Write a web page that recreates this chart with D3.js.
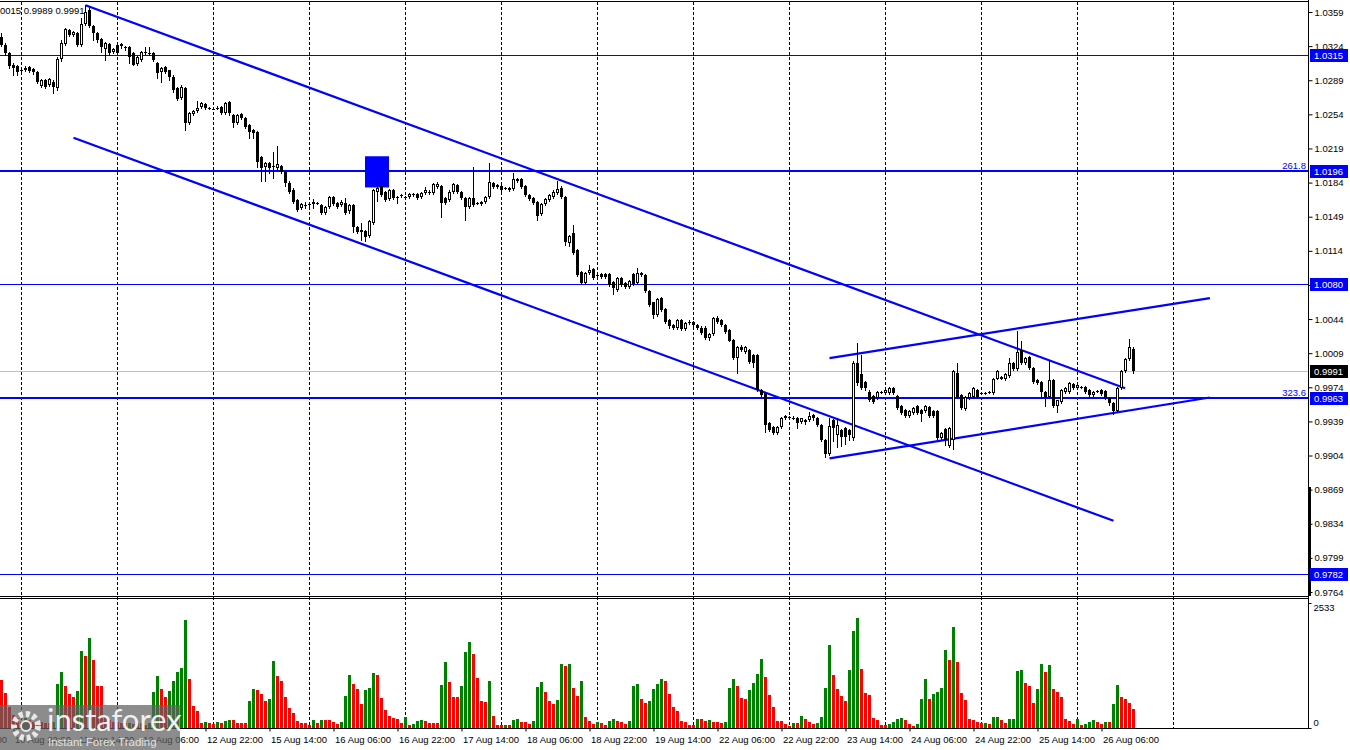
<!DOCTYPE html>
<html><head><meta charset="utf-8">
<script src="https://cdn.jsdelivr.net/npm/d3@7"></script>
<style>body{margin:0;background:#fff}svg{display:block;font-family:"Liberation Sans",Arial,sans-serif}</style>
</head><body>
<script>
// ---- DATA (EURUSD H1) ----
const open=[1.0333,1.0325,1.0317,1.0305,1.0304,1.0299,1.0299,1.0303,1.0301,1.0297,
1.0283,1.0289,1.0284,1.0287,1.0281,1.0311,1.0326,1.0341,1.0335,1.0337,
1.0325,1.0347,1.0361,1.0345,1.0337,1.0331,1.0321,1.0326,1.0318,1.0325,
1.0326,1.0323,1.0323,1.0317,1.0306,1.0310,1.0318,1.0317,1.0317,1.0307,
1.0297,1.0303,1.0299,1.0292,1.0281,1.0271,1.0281,1.0245,1.0254,1.0257,
1.0262,1.0265,1.0261,1.0260,1.0261,1.0262,1.0255,1.0267,1.0253,1.0245,
1.0254,1.0250,1.0243,1.0238,1.0236,1.0210,1.0200,1.0204,1.0201,1.0199,
1.0201,1.0195,1.0184,1.0176,1.0166,1.0158,1.0161,1.0162,1.0162,1.0163,
1.0161,1.0153,1.0159,1.0169,1.0163,1.0161,1.0163,1.0155,1.0161,1.0138,
1.0135,1.0134,1.0129,1.0143,1.0174,1.0181,1.0174,1.0167,1.0176,1.0169,
1.0171,1.0169,1.0169,1.0172,1.0172,1.0169,1.0173,1.0174,1.0173,1.0179,
1.0181,1.0168,1.0166,1.0174,1.0182,1.0174,1.0168,1.0159,1.0168,1.0163,
1.0164,1.0164,1.0169,1.0184,1.0182,1.0181,1.0178,1.0178,1.0177,1.0188,
1.0188,1.0181,1.0171,1.0168,1.0164,1.0152,1.0162,1.0166,1.0169,1.0173,
1.0178,1.0169,1.0122,1.0132,1.0115,1.0092,1.0081,1.0091,1.0095,1.0089,
1.0090,1.0090,1.0090,1.0082,1.0074,1.0086,1.0081,1.0077,1.0090,1.0081,
1.0089,1.0089,1.0073,1.0061,1.0048,1.0066,1.0054,1.0043,1.0038,1.0035,
1.0043,1.0034,1.0041,1.0041,1.0038,1.0035,1.0035,1.0025,1.0029,1.0045,
1.0043,1.0038,1.0033,1.0023,1.0004,1.0015,1.0010,1.0012,1.0007,1.0007,
0.9971,0.9968,0.9937,0.9933,0.9927,0.9933,0.9945,0.9944,0.9943,0.9943,
0.9938,0.9940,0.9940,0.9946,0.9943,0.9935,0.9920,0.9906,0.9940,0.9925,
0.9930,0.9932,0.9930,0.9922,0.9999,0.9988,0.9979,0.9969,0.9965,0.9963,
0.9969,0.9968,0.9968,0.9973,0.9965,0.9955,0.9951,0.9945,0.9948,0.9955,
0.9951,0.9950,0.9954,0.9950,0.9950,0.9922,0.9931,0.9914,0.9920,0.9989,
0.9966,0.9952,0.9963,0.9964,0.9971,0.9968,0.9968,0.9969,0.9968,0.9983,
0.9983,0.9982,0.9986,0.9999,0.9993,1.0012,0.9999,1.0005,0.9994,0.9981,
0.9979,0.9969,0.9964,0.9981,0.9955,0.9959,0.9969,0.9969,0.9977,0.9973,
0.9974,0.9974,0.9971,0.9966,0.9970,0.9971,0.9970,0.9963,0.9958,0.9950,
0.9973,0.9991,1.0003,1.0013];
const high=[1.0337,1.0327,1.0318,1.0307,1.0305,1.0301,1.0304,1.0304,1.0302,1.0298,
1.0290,1.0290,1.0291,1.0289,1.0313,1.0330,1.0343,1.0342,1.0340,1.0338,
1.0353,1.0366,1.0365,1.0346,1.0338,1.0332,1.0328,1.0327,1.0322,1.0327,
1.0327,1.0324,1.0324,1.0318,1.0314,1.0319,1.0323,1.0323,1.0318,1.0308,
1.0303,1.0304,1.0300,1.0294,1.0282,1.0284,1.0282,1.0256,1.0258,1.0268,
1.0267,1.0266,1.0262,1.0262,1.0263,1.0263,1.0267,1.0268,1.0254,1.0254,
1.0255,1.0251,1.0244,1.0239,1.0237,1.0211,1.0205,1.0205,1.0215,1.0222,
1.0202,1.0196,1.0186,1.0178,1.0167,1.0163,1.0164,1.0163,1.0167,1.0164,
1.0162,1.0160,1.0170,1.0170,1.0164,1.0166,1.0168,1.0162,1.0162,1.0139,
1.0143,1.0135,1.0146,1.0177,1.0194,1.0182,1.0175,1.0177,1.0177,1.0170,
1.0172,1.0170,1.0173,1.0173,1.0173,1.0174,1.0179,1.0176,1.0184,1.0185,
1.0182,1.0169,1.0176,1.0184,1.0183,1.0175,1.0169,1.0169,1.0200,1.0164,
1.0165,1.0170,1.0204,1.0185,1.0183,1.0182,1.0179,1.0179,1.0194,1.0189,
1.0189,1.0182,1.0172,1.0169,1.0165,1.0163,1.0168,1.0172,1.0176,1.0186,
1.0180,1.0170,1.0130,1.0140,1.0116,1.0093,1.0092,1.0099,1.0096,1.0091,
1.0091,1.0091,1.0091,1.0083,1.0087,1.0087,1.0082,1.0084,1.0091,1.0096,
1.0092,1.0090,1.0074,1.0062,1.0066,1.0067,1.0055,1.0044,1.0039,1.0044,
1.0044,1.0041,1.0043,1.0042,1.0039,1.0037,1.0037,1.0030,1.0046,1.0047,
1.0044,1.0039,1.0034,1.0024,1.0016,1.0017,1.0016,1.0013,1.0008,1.0008,
0.9972,0.9969,0.9938,0.9934,0.9934,0.9944,0.9946,0.9945,0.9945,0.9944,
0.9943,0.9941,0.9949,0.9947,0.9944,0.9936,0.9921,0.9943,0.9941,0.9942,
0.9931,0.9933,0.9931,1.0001,1.0019,1.0007,0.9980,0.9971,0.9966,0.9970,
0.9970,0.9972,0.9974,0.9974,0.9966,0.9956,0.9952,0.9951,0.9954,0.9956,
0.9952,0.9956,0.9955,0.9951,0.9951,0.9928,0.9932,0.9933,0.9992,0.9999,
0.9967,0.9965,0.9969,0.9974,0.9972,0.9969,0.9969,0.9970,0.9984,0.9992,
0.9986,0.9989,1.0004,1.0000,1.0032,1.0022,1.0005,1.0006,0.9995,0.9982,
0.9980,0.9970,1.0002,0.9982,0.9961,0.9972,0.9974,0.9979,0.9978,0.9977,
0.9975,0.9975,0.9972,0.9970,0.9971,0.9972,0.9971,0.9964,0.9959,0.9974,
0.9992,1.0004,1.0024,1.0015];
const low=[1.0324,1.0315,1.0302,1.0294,1.0294,1.0296,1.0298,1.0297,1.0295,1.0286,
1.0282,1.0281,1.0283,1.0276,1.0279,1.0309,1.0325,1.0334,1.0334,1.0324,
1.0324,1.0346,1.0344,1.0330,1.0328,1.0318,1.0310,1.0315,1.0317,1.0316,
1.0322,1.0320,1.0307,1.0305,1.0305,1.0309,1.0316,1.0315,1.0309,1.0291,
1.0287,1.0296,1.0289,1.0277,1.0269,1.0270,1.0238,1.0244,1.0253,1.0256,
1.0261,1.0260,1.0259,1.0259,1.0259,1.0254,1.0254,1.0253,1.0241,1.0244,
1.0249,1.0240,1.0230,1.0230,1.0200,1.0186,1.0186,1.0194,1.0189,1.0198,
1.0194,1.0181,1.0173,1.0163,1.0155,1.0157,1.0158,1.0160,1.0158,1.0162,
1.0152,1.0152,1.0158,1.0161,1.0158,1.0160,1.0152,1.0153,1.0133,1.0132,
1.0125,1.0124,1.0128,1.0142,1.0165,1.0170,1.0165,1.0166,1.0167,1.0163,
1.0169,1.0167,1.0168,1.0170,1.0167,1.0168,1.0172,1.0172,1.0172,1.0178,
1.0149,1.0162,1.0165,1.0173,1.0173,1.0167,1.0146,1.0158,1.0160,1.0162,
1.0161,1.0163,1.0168,1.0178,1.0178,1.0175,1.0177,1.0175,1.0176,1.0185,
1.0178,1.0170,1.0166,1.0162,1.0146,1.0151,1.0161,1.0165,1.0168,1.0172,
1.0168,1.0120,1.0119,1.0111,1.0088,1.0080,1.0080,1.0090,1.0085,1.0087,
1.0086,1.0086,1.0078,1.0070,1.0073,1.0078,1.0076,1.0076,1.0079,1.0080,
1.0088,1.0072,1.0057,1.0045,1.0047,1.0052,1.0040,1.0035,1.0034,1.0034,
1.0033,1.0033,1.0039,1.0037,1.0034,1.0029,1.0024,1.0023,1.0028,1.0040,
1.0037,1.0030,1.0021,1.0003,0.9989,1.0011,1.0009,0.9999,0.9995,0.9970,
0.9965,0.9928,0.9929,0.9926,0.9926,0.9932,0.9941,0.9942,0.9941,0.9932,
0.9937,0.9936,0.9939,0.9940,0.9934,0.9919,0.9903,0.9905,0.9919,0.9913,
0.9914,0.9916,0.9920,0.9920,0.9976,0.9972,0.9971,0.9960,0.9958,0.9962,
0.9968,0.9967,0.9967,0.9967,0.9952,0.9947,0.9944,0.9944,0.9947,0.9947,
0.9939,0.9949,0.9944,0.9944,0.9921,0.9921,0.9915,0.9913,0.9911,0.9963,
0.9952,0.9951,0.9962,0.9963,0.9963,0.9967,0.9967,0.9968,0.9967,0.9982,
0.9982,0.9981,0.9985,0.9992,0.9992,0.9998,0.9998,0.9993,0.9978,0.9977,
0.9963,0.9955,0.9963,0.9954,0.9949,0.9958,0.9968,0.9968,0.9972,0.9972,
0.9973,0.9968,0.9965,0.9965,0.9969,0.9966,0.9962,0.9956,0.9947,0.9949,
0.9972,0.9990,1.0002,0.9989];
const close=[1.0325,1.0317,1.0304,1.0302,1.0297,1.0298,1.0302,1.0298,1.0297,1.0287,
1.0289,1.0282,1.0290,1.0282,1.0311,1.0327,1.0342,1.0335,1.0338,1.0325,
1.0347,1.0359,1.0345,1.0337,1.0330,1.0323,1.0327,1.0317,1.0321,1.0317,
1.0324,1.0322,1.0313,1.0305,1.0313,1.0318,1.0317,1.0317,1.0310,1.0296,
1.0302,1.0297,1.0292,1.0279,1.0270,1.0282,1.0245,1.0255,1.0257,1.0261,
1.0266,1.0261,1.0261,1.0260,1.0261,1.0255,1.0266,1.0255,1.0245,1.0253,
1.0250,1.0241,1.0236,1.0235,1.0205,1.0199,1.0204,1.0199,1.0201,1.0203,
1.0195,1.0184,1.0174,1.0164,1.0156,1.0162,1.0161,1.0162,1.0164,1.0163,
1.0153,1.0159,1.0169,1.0162,1.0159,1.0164,1.0153,1.0161,1.0138,1.0133,
1.0133,1.0128,1.0145,1.0176,1.0178,1.0171,1.0166,1.0176,1.0168,1.0168,
1.0171,1.0168,1.0172,1.0172,1.0168,1.0173,1.0176,1.0174,1.0183,1.0183,
1.0163,1.0163,1.0174,1.0183,1.0174,1.0168,1.0159,1.0168,1.0161,1.0163,
1.0162,1.0169,1.0185,1.0179,1.0179,1.0176,1.0178,1.0176,1.0188,1.0186,
1.0179,1.0171,1.0167,1.0163,1.0150,1.0162,1.0167,1.0171,1.0174,1.0177,
1.0169,1.0123,1.0129,1.0112,1.0089,1.0081,1.0091,1.0094,1.0086,1.0089,
1.0087,1.0087,1.0079,1.0076,1.0086,1.0079,1.0077,1.0083,1.0080,1.0091,
1.0091,1.0073,1.0058,1.0048,1.0065,1.0053,1.0041,1.0037,1.0035,1.0043,
1.0034,1.0040,1.0041,1.0038,1.0035,1.0030,1.0025,1.0029,1.0045,1.0041,
1.0038,1.0031,1.0022,1.0004,1.0015,1.0012,1.0015,1.0000,0.9999,0.9971,
0.9966,0.9935,0.9930,0.9927,0.9933,0.9943,0.9942,0.9944,0.9943,0.9937,
0.9942,0.9938,0.9945,0.9943,0.9935,0.9920,0.9906,0.9934,0.9932,0.9935,
0.9923,0.9923,0.9925,0.9999,0.9978,0.9973,0.9973,0.9961,0.9959,0.9969,
0.9969,0.9971,0.9973,0.9968,0.9953,0.9948,0.9945,0.9950,0.9953,0.9948,
0.9947,0.9955,0.9945,0.9945,0.9922,0.9927,0.9920,0.9932,0.9991,0.9964,
0.9953,0.9964,0.9968,0.9973,0.9964,0.9968,0.9968,0.9969,0.9983,0.9991,
0.9985,0.9988,0.9999,0.9993,1.0010,0.9999,1.0004,0.9994,0.9979,0.9978,
0.9969,0.9964,0.9981,0.9955,0.9961,0.9971,0.9973,0.9978,0.9973,0.9976,
0.9974,0.9969,0.9966,0.9969,0.9970,0.9967,0.9963,0.9958,0.9950,0.9973,
0.9991,1.0003,1.0015,0.9991];
const volume=[974,704,420,264,197,128,197,162,128,124,
118,110,108,128,893,1143,853,690,635,757,
1563,1462,1821,1380,853,850,264,162,128,126,
95,95,108,81,95,94,61,95,737,1056,
792,635,757,960,1143,1224,2192,995,453,351,
108,122,95,81,122,108,136,168,162,108,
107,106,548,792,771,684,554,583,1360,1056,
960,635,400,298,142,108,107,61,162,95,
162,161,160,116,81,122,650,1076,893,786,
487,771,806,1123,1076,615,365,244,203,183,
95,229,61,81,142,162,142,108,107,106,
873,1346,940,623,622,853,1543,1746,1502,1009,
548,522,960,244,67,55,61,60,162,183,
122,121,81,142,838,934,737,548,487,568,
1299,1259,1300,812,650,954,223,142,81,122,
102,61,142,183,142,122,81,142,853,893,
589,508,548,792,893,995,954,690,426,345,
142,122,61,60,183,182,142,162,122,121,
102,122,812,995,853,609,589,771,914,1096,
1401,1035,670,426,142,141,81,41,102,101,
244,183,122,81,102,223,812,1685,1076,792,
650,548,1177,1969,2233,1198,711,670,203,162,
61,60,81,122,183,203,162,81,41,81,
589,995,589,690,731,812,1583,1380,2050,1340,
711,568,183,162,122,102,104,81,223,224,
162,102,183,184,1157,1177,914,853,508,792,
1299,1137,1279,792,731,629,183,142,81,183,
61,81,122,162,122,81,122,121,487,873,
629,589,508,386];
const timeLabels=["10 Aug 06:00","10 Aug 22:00","11 Aug 14:00","12 Aug 06:00","12 Aug 22:00","15 Aug 14:00","16 Aug 06:00","16 Aug 22:00","17 Aug 14:00","18 Aug 06:00","18 Aug 22:00","19 Aug 14:00","22 Aug 06:00","22 Aug 22:00","23 Aug 14:00","24 Aug 06:00","24 Aug 22:00","25 Aug 14:00","26 Aug 06:00"];
const timeLabelBar=[-13,3,19,35,51,67,83,99,115,131,147,163,179,195,211,227,243,259,275];
const dayStartBar=[5,29,53,77,101,125,149,173,197,221,245,269,293];
const priceTicks=[1.0359,1.0324,1.0289,1.0254,1.0219,1.0184,1.0149,1.0114,1.0079,1.0044,1.0009,0.9974,0.9939,0.9904,0.9869,0.9834,0.9799,0.9764];
const levelPrices=[1.0315,1.0196,1.0080,0.9963,0.9782];
const levelWidths=[1,2,1,2,1];
const fiboLabels=[{price:1.0196,text:"261.8"},{price:0.9963,text:"323.6"}];
const bidPrice=0.9991;
const trendLines=[[21,1.0366,280.9,0.9973],[18,1.0230,278,0.9837],[207,0.9901,302.1,0.99635],[207,1.0004,302.1,1.00655]];
const markRect=[90.875,1.0211,96.875,1.0179];
const volumeTicks=[2533,0];
const headerText="0015 0.9989 0.9991";

// ---- CHART ----
const W=1350,H=750, AX=1308;
const N=close.length;
const x=d3.scaleLinear().domain([0,N-1]).range([1.5,1.5+4*(N-1)]);
const y=d3.scaleLinear().domain([0.9764,1.0359]).range([592,12]);
const vy=d3.scaleLinear().domain([0,2533]).range([728,603]);
const BLUE="#0000ff";
const svg=d3.select("body").append("svg").attr("width",W).attr("height",H);
svg.append("rect").attr("width",W).attr("height",H).attr("fill","#fff");
const font="9.5px";

// frames
svg.append("line").attr("x1",0).attr("x2",AX).attr("y1",1.5).attr("y2",1.5).attr("stroke","#000");
svg.append("line").attr("x1",0).attr("x2",AX).attr("y1",596.5).attr("y2",596.5).attr("stroke","#000");
svg.append("line").attr("x1",0).attr("x2",AX).attr("y1",598.5).attr("y2",598.5).attr("stroke","#000");
svg.append("line").attr("x1",0).attr("x2",AX+1).attr("y1",728.5).attr("y2",728.5).attr("stroke","#000");
svg.append("line").attr("x1",AX+0.5).attr("x2",AX+0.5).attr("y1",0).attr("y2",729).attr("stroke","#000");
svg.append("rect").attr("x",AX).attr("y",487).attr("width",3).attr("height",109).attr("fill","#000");

// day grid
svg.append("g").selectAll("line").data(dayStartBar).join("line")
  .attr("x1",d=>x(d)).attr("x2",d=>x(d)).attr("y1",2).attr("y2",728)
  .attr("stroke","#000").attr("stroke-dasharray","3,2").attr("shape-rendering","crispEdges");

const clipId="mainclip";
svg.append("clipPath").attr("id",clipId).append("rect").attr("x",0).attr("y",2).attr("width",AX).attr("height",594);
const main=svg.append("g").attr("clip-path",`url(#${clipId})`);

// bid line
main.append("line").attr("x1",0).attr("x2",AX).attr("y1",Math.round(y(bidPrice))+0.5).attr("y2",Math.round(y(bidPrice))+0.5).attr("stroke","#c0c0c0");

// horizontal levels
levelPrices.forEach((p,k)=>{
  const yy=Math.round(y(p));
  main.append("line").attr("x1",0).attr("x2",AX).attr("y1",levelWidths[k]===1?yy+0.5:yy).attr("y2",levelWidths[k]===1?yy+0.5:yy)
    .attr("stroke",BLUE).attr("stroke-width",levelWidths[k]);
});
// rectangle object
main.append("rect").attr("x",x(markRect[0])).attr("y",y(markRect[1])).attr("width",x(markRect[2])-x(markRect[0])).attr("height",y(markRect[3])-y(markRect[1])).attr("fill",BLUE);
// trend lines
main.selectAll("line.tl").data(trendLines).join("line").attr("class","tl")
  .attr("x1",d=>x(d[0])).attr("y1",d=>y(d[1])).attr("x2",d=>x(d[2])).attr("y2",d=>y(d[3]))
  .attr("stroke",BLUE).attr("stroke-width",2.2);

// candles
const bars=d3.range(N).map(i=>({i,o:open[i],h:high[i],l:low[i],c:close[i],v:volume[i]}));
const cg=main.append("g").attr("shape-rendering","crispEdges");
bars.forEach(d=>{
  const cx=x(d.i);
  const yh=Math.round(y(d.h)), yl=Math.round(y(d.l));
  cg.append("line").attr("x1",cx).attr("x2",cx).attr("y1",yh).attr("y2",yl+1).attr("stroke","#000");
  let yt=Math.round(Math.min(y(d.o),y(d.c))), yb=Math.round(Math.max(y(d.o),y(d.c)));
  if(yb-yt<1) yb=yt+1;
  if(d.c>d.o && yb-yt>=3){
    cg.append("rect").attr("x",cx-1).attr("y",yt+0.5).attr("width",2).attr("height",yb-yt-1).attr("fill","#fff").attr("stroke","#000");
  } else {
    cg.append("rect").attr("x",cx-1.5).attr("y",yt).attr("width",3).attr("height",yb-yt).attr("fill","#000");
  }
});

// volumes
svg.append("g").attr("shape-rendering","crispEdges").selectAll("rect").data(bars).join("rect")
  .attr("x",d=>x(d.i)-1.5).attr("width",3)
  .attr("y",d=>Math.round(vy(d.v))).attr("height",d=>728-Math.round(vy(d.v)))
  .attr("fill",(d,k)=>k>0&&d.v>bars[k-1].v?"#008000":"#ff0000");

// price axis
const ya=svg.append("g").attr("transform",`translate(${AX+0.5},0)`)
  .call(d3.axisRight(y).tickValues(priceTicks).tickSize(4).tickSizeOuter(0).tickFormat(d3.format(".4f")));
ya.select(".domain").remove();
ya.selectAll("text").attr("x",6).attr("font-size",font).attr("font-family","Liberation Sans, Arial").attr("fill","#000");

// level label boxes
function box(p,bg,txt){
  const yy=y(p);
  svg.append("rect").attr("x",AX+2).attr("y",Math.round(yy)-6).attr("width",38).attr("height",13).attr("fill",bg);
  svg.append("text").attr("x",AX+6).attr("y",Math.round(yy)+4).attr("fill","#fff").attr("font-size",font).text(txt);
}
levelPrices.forEach(p=>box(p,BLUE,d3.format(".4f")(p)));
box(bidPrice,"#000",d3.format(".4f")(bidPrice));
fiboLabels.forEach(f=>{
  svg.append("text").attr("x",AX-2).attr("y",Math.round(y(f.price))-2).attr("text-anchor","end")
    .attr("fill",BLUE).attr("font-size",font).text(f.text);
});

// volume axis
const va=svg.append("g").attr("transform",`translate(${AX+0.5},0)`)
  .call(d3.axisRight(vy).tickValues(volumeTicks).tickSize(3).tickSizeOuter(0).tickFormat(d3.format("d")));
va.select(".domain").remove();
va.selectAll("text").attr("x",5).attr("font-size",font).attr("fill","#000")
  .attr("dy",d=>d>0?"0.75em":"-0.3em");

// time axis
const xa=svg.append("g").attr("transform","translate(0,728.5)")
  .call(d3.axisBottom(x).tickValues(timeLabelBar).tickSize(3).tickSizeOuter(0).tickFormat((d,k)=>timeLabels[k]));
xa.select(".domain").remove();
xa.selectAll("text").attr("text-anchor","start").attr("x",1).attr("y",14.5).attr("dy",0)
  .attr("font-size",font).attr("fill","#000");

// header
svg.append("text").attr("x",0).attr("y",14).attr("font-size",font).attr("fill","#000").text(headerText);

// watermark
const wm=svg.append("g");
wm.append("rect").attr("x",0).attr("y",705).attr("width",180).attr("height",45).attr("fill","rgba(95,95,95,0.72)");
wm.append("circle").attr("cx",26).attr("cy",726).attr("r",12).attr("fill","none").attr("stroke","#e8e8e8").attr("stroke-width",6).attr("stroke-dasharray","4,3");
wm.append("circle").attr("cx",26).attr("cy",726).attr("r",5).attr("fill","rgba(95,95,95,1)").attr("stroke","#e8e8e8").attr("stroke-width",2);
wm.append("text").attr("x",47).attr("y",731).attr("font-size","31px").attr("font-family","Lato, 'Open Sans', sans-serif").attr("fill","#f0f0f0").text("instaforex");
wm.append("text").attr("x",48).attr("y",746).attr("font-size","11.5px").attr("fill","#e0e0e0").text("Instant Forex Trading");
</script>
</body></html>
